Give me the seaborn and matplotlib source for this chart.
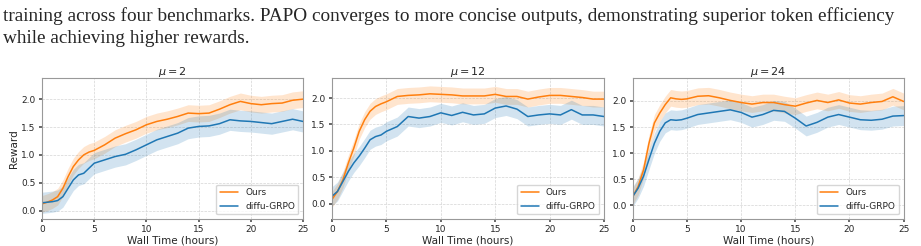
import numpy as np
import pandas as pd
import seaborn as sns
import matplotlib.pyplot as plt

# tempo in ore (campioni)
hours = [0, 0.5, 1, 1.5, 2, 2.5, 3, 3.5, 4, 4.5, 5, 6, 7, 8, 9, 10, 11, 12, 13,
         14, 15, 16, 17, 18, 19, 20, 21, 22, 23, 24, 25]

mus = [2, 12, 24]

ours_mu2 = [0.12, 0.15, 0.19, 0.25, 0.40, 0.61, 0.79, 0.91, 1.00, 1.05, 1.08, 1.18, 1.30,
            1.38, 1.45, 1.54, 1.60, 1.64, 1.69, 1.75, 1.74, 1.75, 1.82, 1.90, 1.96, 1.92,
            1.90, 1.92, 1.93, 1.98, 2.00]
grpo_mu2 = [0.14, 0.15, 0.16, 0.18, 0.25, 0.40, 0.55, 0.64, 0.67, 0.76, 0.85, 0.91, 0.97,
            1.01, 1.09, 1.18, 1.27, 1.33, 1.39, 1.48, 1.51, 1.52, 1.56, 1.63, 1.61, 1.60,
            1.58, 1.56, 1.60, 1.64, 1.60]

ours_mu12 = [0.08, 0.23, 0.45, 0.77, 1.05, 1.37, 1.59, 1.75, 1.84, 1.89, 1.93, 2.03, 2.05,
             2.06, 2.08, 2.07, 2.06, 2.04, 2.04, 2.04, 2.07, 2.03, 2.03, 1.98, 2.02, 2.05,
             2.05, 2.03, 2.01, 1.98, 1.98]
grpo_mu12 = [0.14, 0.23, 0.42, 0.61, 0.77, 0.90, 1.05, 1.21, 1.27, 1.30, 1.37, 1.46, 1.65,
             1.62, 1.65, 1.72, 1.67, 1.73, 1.68, 1.70, 1.81, 1.85, 1.79, 1.65, 1.68, 1.70,
             1.68, 1.78, 1.68, 1.68, 1.65]

ours_mu24 = [0.17, 0.36, 0.68, 1.19, 1.58, 1.77, 1.93, 2.06, 2.04, 2.03, 2.04, 2.09, 2.10,
             2.06, 2.01, 1.97, 1.94, 1.97, 1.97, 1.93, 1.90, 1.96, 2.01, 1.97, 2.02, 1.96,
             1.94, 1.97, 1.99, 2.08, 1.99]
grpo_mu24 = [0.17, 0.33, 0.56, 0.88, 1.19, 1.42, 1.58, 1.64, 1.63, 1.64, 1.67, 1.74, 1.77,
             1.80, 1.83, 1.78, 1.69, 1.74, 1.82, 1.80, 1.67, 1.52, 1.59, 1.69, 1.74, 1.69,
             1.64, 1.63, 1.65, 1.71, 1.72]

# ampiezza della banda (deviazione)
ours_spread = [0.15, 0.15, 0.16]
grpo_spread = [0.19, 0.18, 0.19]

ylims = [(-0.15, 2.38), (-0.29, 2.38), (-0.26, 2.44)]

ours_all = [ours_mu2, ours_mu12, ours_mu24]
grpo_all = [grpo_mu2, grpo_mu12, grpo_mu24]

sns.set_theme(style="whitegrid")
plt.rcParams['font.family'] = ['DejaVu Sans']

fig = plt.figure(figsize=(9.21, 2.46), dpi=100)

# didascalia sopra il grafico
fig.text(0.003, 0.916, "training across four benchmarks. PAPO converges to more concise outputs, "
         "demonstrating superior token efficiency", family='Liberation Serif', fontsize=13.9,
         va='baseline', ha='left')
fig.text(0.003, 0.825, "while achieving higher rewards.", family='Liberation Serif',
         fontsize=13.9, va='baseline', ha='left')

lefts = [0.0456, 0.3605, 0.687]
widths = [0.2834, 0.2953, 0.2942]

orange = '#ff7f0e'
blue = '#1f77b4'

for i, mu in enumerate(mus):
    ax = fig.add_axes([lefts[i], 0.110, widths[i], 0.573])
    df = pd.DataFrame({'hours': hours, 'Ours': ours_all[i], 'diffu-GRPO': grpo_all[i]})
    o = np.array(ours_all[i])
    g = np.array(grpo_all[i])
    ax.fill_between(hours, o - ours_spread[i], o + ours_spread[i], color=orange, alpha=0.2, lw=0)
    ax.fill_between(hours, g - grpo_spread[i], g + grpo_spread[i], color=blue, alpha=0.2, lw=0)
    sns.lineplot(data=df, x='hours', y='Ours', ax=ax, color=orange, lw=1.1, label='Ours')
    sns.lineplot(data=df, x='hours', y='diffu-GRPO', ax=ax, color=blue, lw=1.1, label='diffu-GRPO')

    ax.set_xlim(0, 25)
    ax.set_ylim(*ylims[i])
    ax.set_xticks([0, 5, 10, 15, 20, 25])
    ax.set_yticks([0.0, 0.5, 1.0, 1.5, 2.0])
    ax.tick_params(labelsize=6.5, pad=2, length=2.5, color='#555555', left=True, bottom=True)
    ax.grid(True, linestyle='--', linewidth=0.5, color='#d5d5d5')
    for s in ax.spines.values():
        s.set_color('#999999')
        s.set_linewidth(0.8)
    ax.set_title(f'$\\mu = {mu}$', fontsize=8, pad=2)
    ax.set_xlabel('Wall Time (hours)', fontsize=7.5, labelpad=1)
    ax.set_ylabel('Reward' if i == 0 else '', fontsize=7.5, labelpad=2)
    ax.legend(loc='lower right', fontsize=6.5, frameon=True, edgecolor='#cccccc',
              fancybox=True, handlelength=2)

plt.savefig('out.png', dpi=100)
